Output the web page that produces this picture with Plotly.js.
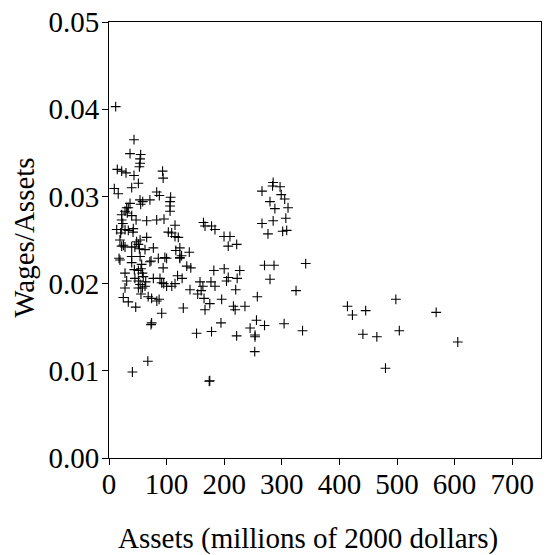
<!DOCTYPE html>
<html>
<head>
<meta charset="utf-8">
<script src="https://cdn.plot.ly/plotly-3.0.1.min.js"></script>
<style>html,body{margin:0;padding:0;background:#fff;}</style>
</head>
<body>
<div id="chart" style="width:547px;height:555px;"></div>
<script>
// Assets (millions of 2000 dollars)
const assets = [
  11.6, 43.4, 36.5, 55, 54, 54, 52.7, 14.4, 22, 29.5, 43.4, 51, 39.4, 93, 94, 9.2, 16, 82.8, 87.4, 107,
  106, 106, 106, 53.8, 58.5, 55, 71, 36.5, 33.5, 30.7, 27.8, 31.8, 22, 39.4, 47, 65.4, 82.8, 95.5, 114.6, 22,
  24, 13.4, 22, 27.8, 33.5, 42.2, 41.7, 20.3, 65.4, 103, 108.8, 114.6, 120.3, 19, 22, 27.8, 39.4, 45, 51, 52.7,
  48, 54, 77, 123, 139.4, 126, 123, 164, 166.7, 178, 184, 199.7, 210, 207, 221.7, 25, 62.5, 116, 54, 100,
  285, 284, 297, 265.6, 299, 305, 279.5, 310.8, 288, 307, 285, 265.6, 276, 301.5, 308.5, 270, 286.5, 341.5, 279.5, 324.7,
  19, 39.4, 39.4, 56.7, 71, 85.6, 97, 94, 123, 135, 142, 182, 200, 227, 27.8, 44, 51, 55.5, 58, 59.5,
  30.7, 45, 51, 54, 62.5, 77, 88.5, 91.5, 100, 109, 114.6, 119, 127, 27.8, 51, 58, 24.8, 33.5, 46.4, 55.5,
  68, 74, 83, 87, 91.5, 74, 73, 129, 140.6, 158, 154, 160, 165, 175, 166.7, 177, 184, 195.6, 204, 207,
  220, 216, 219, 236, 257.5, 256, 270, 245, 253.5, 253.5, 194.4, 178, 152, 221.6, 222.5, 63.7, 95, 163, 73, 17.4,
  40.6, 67.4, 175, 174, 253, 304, 336, 414, 422.6, 445.6, 440.8, 465, 480, 498, 504, 568, 605.5
];
// Wages / Assets
const wagesRatio = [
  0.0403, 0.0365, 0.0349, 0.0348, 0.0343, 0.0338, 0.0334, 0.0331, 0.0329, 0.0327, 0.0324, 0.0315, 0.0310, 0.0329, 0.0321, 0.0309, 0.0303, 0.0305, 0.0301, 0.0299,
  0.0294, 0.0289, 0.0283, 0.0296, 0.0294, 0.0291, 0.0296, 0.0292, 0.0287, 0.0287, 0.0283, 0.0281, 0.0279, 0.0278, 0.0273, 0.0272, 0.0273, 0.0274, 0.0267, 0.0273,
  0.0269, 0.0262, 0.0262, 0.0262, 0.0261, 0.0263, 0.0259, 0.0258, 0.0253, 0.0259, 0.0258, 0.0254, 0.0253, 0.0250, 0.0243, 0.0242, 0.0242, 0.0242, 0.0245, 0.0240,
  0.0248, 0.0250, 0.0241, 0.0241, 0.0236, 0.0232, 0.0230, 0.0270, 0.0266, 0.0266, 0.0262, 0.0254, 0.0254, 0.0243, 0.0245, 0.0244, 0.0239, 0.0238, 0.0231, 0.0229,
  0.0316, 0.0312, 0.0311, 0.0306, 0.0302, 0.0297, 0.0294, 0.0287, 0.0286, 0.0275, 0.0272, 0.0269, 0.0257, 0.0260, 0.0261, 0.0221, 0.0221, 0.0223, 0.0205, 0.0192,
  0.0227, 0.0231, 0.0224, 0.0222, 0.0225, 0.0229, 0.0230, 0.0218, 0.0229, 0.0220, 0.0218, 0.0215, 0.0217, 0.0215, 0.0212, 0.0216, 0.0215, 0.0217, 0.0212, 0.0208,
  0.0203, 0.0206, 0.0203, 0.0199, 0.0197, 0.0206, 0.0206, 0.0201, 0.0197, 0.0197, 0.0200, 0.0209, 0.0206, 0.0195, 0.0195, 0.0195, 0.0184, 0.0179, 0.0173, 0.0188,
  0.0185, 0.0183, 0.0180, 0.0182, 0.0166, 0.0155, 0.0153, 0.0172, 0.0193, 0.0202, 0.0188, 0.0192, 0.0183, 0.0177, 0.0170, 0.0202, 0.0197, 0.0182, 0.0203, 0.0207,
  0.0193, 0.0174, 0.0170, 0.0174, 0.0185, 0.0158, 0.0152, 0.0149, 0.0141, 0.0139, 0.0155, 0.0145, 0.0143, 0.0140, 0.0206, 0.0202, 0.0200, 0.0197, 0.0226, 0.0229,
  0.00986, 0.0111, 0.00886, 0.0088, 0.0122, 0.0154, 0.0146, 0.0174, 0.0164, 0.0169, 0.0142, 0.0139, 0.0103, 0.0182, 0.0146, 0.0167, 0.0133
];
const xTickVals = [0, 100, 200, 300, 400, 500, 600, 700];
const yTickVals = [0, 0.01, 0.02, 0.03, 0.04, 0.05];
const xTitle = 'Assets (millions of 2000 dollars)';
const yTitle = 'Wages/Assets';

const font = {family: '"Liberation Serif", "Times New Roman", serif', size: 29, color: '#000'};

const trace = {
  type: 'scatter', mode: 'markers',
  x: assets, y: wagesRatio,
  marker: {symbol: 'cross-thin-open', size: 7, color: '#000', line: {color: '#000', width: 1.1}},
  hoverinfo: 'x+y'
};

const axisCommon = {
  showline: true, linecolor: '#000', linewidth: 1, mirror: true,
  ticks: 'outside', ticklen: 6, tickwidth: 1, tickcolor: '#000',
  showgrid: false, zeroline: false, tickfont: font
};

const layout = {
  width: 547, height: 555,
  margin: {l: 109, r: 6, t: 22, b: 97, pad: 0},
  paper_bgcolor: '#fff', plot_bgcolor: '#fff',
  font: font,
  showlegend: false,
  xaxis: Object.assign({}, axisCommon, {range: [0, 750], tickvals: xTickVals, ticktext: xTickVals.map(String), ticklabelstandoff: -6}),
  yaxis: Object.assign({}, axisCommon, {range: [0, 0.05], tickvals: yTickVals, ticktext: yTickVals.map(v => v.toFixed(2)), ticklabelstandoff: -3}),
  annotations: [
    {text: xTitle, xref: 'paper', yref: 'paper', x: 0.4606, y: -0.185, xanchor: 'center', yanchor: 'middle', showarrow: false, font: font},
    {text: yTitle, xref: 'paper', yref: 'paper', x: -0.197, y: 0.505, xanchor: 'center', yanchor: 'middle', textangle: -90, showarrow: false, font: font}
  ]
};

Plotly.newPlot('chart', [trace], layout, {displayModeBar: false, staticPlot: true});
</script>
</body>
</html>
